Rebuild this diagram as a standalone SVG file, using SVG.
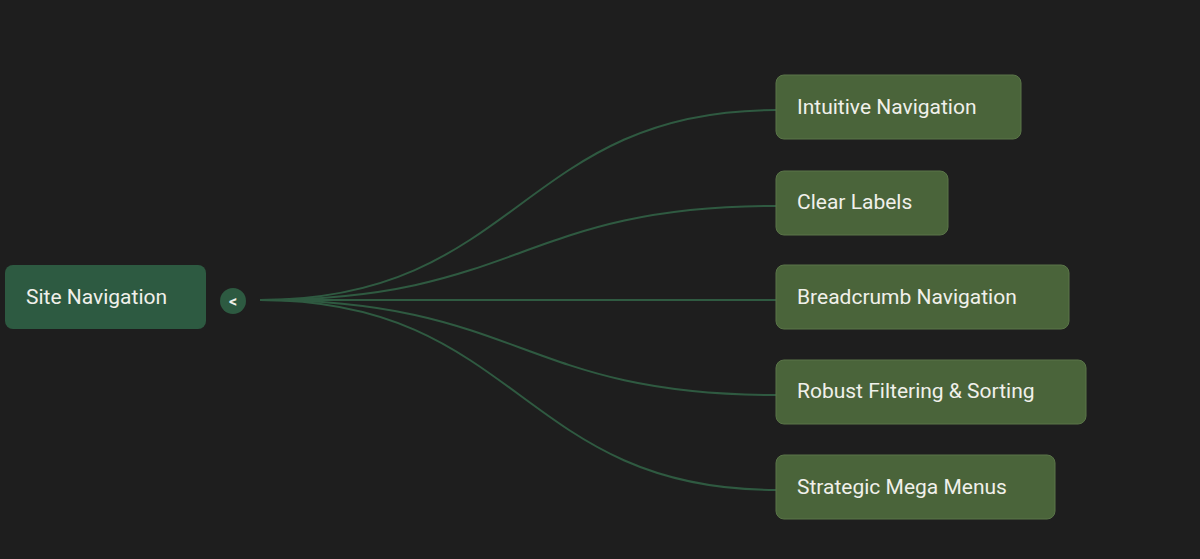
<svg xmlns="http://www.w3.org/2000/svg" width="1200" height="559" viewBox="0 0 1200 559">
<style>
.c{fill:none;stroke:#2f5a41;stroke-width:2}
.k{fill:#4a643a;stroke:#5a7548;stroke-width:1}
.t{font-family:Roboto,"Liberation Sans",sans-serif;font-size:21px;fill:#f0f0ea}
</style>
<rect width="1200" height="559" fill="#1e1e1e"/>
<g id="connectors">
<path class="c" d="M260,300 C520,300 520,110 776,110"/>
<path class="c" d="M260,300 C520,300 520,206 776,206"/>
<path class="c" d="M260,300 L776,300"/>
<path class="c" d="M260,300 C520,300 520,395 776,395"/>
<path class="c" d="M260,300 C520,300 520,490 776,490"/>
</g>
<g id="root"><rect x="5" y="265" width="201" height="64" rx="8" fill="#2d5a41"/><text class="t" x="26" y="304">Site Navigation</text></g>
<g id="toggle"><circle cx="233" cy="301" r="13" fill="#2d5a41"/><text x="233" y="307" text-anchor="middle" font-family="Roboto,sans-serif" font-size="16" font-weight="bold" fill="#f0f0ea">&lt;</text></g>
<g id="n1"><rect class="k" x="776" y="75" width="245" height="64" rx="8"/><text class="t" x="797" y="114">Intuitive Navigation</text></g>
<g id="n2"><rect class="k" x="776" y="171" width="172" height="64" rx="8"/><text class="t" x="797" y="209">Clear Labels</text></g>
<g id="n3"><rect class="k" x="776" y="265" width="293" height="64" rx="8"/><text class="t" x="797" y="304">Breadcrumb Navigation</text></g>
<g id="n4"><rect class="k" x="776" y="360" width="310" height="64" rx="8"/><text class="t" x="797" y="398">Robust Filtering &amp; Sorting</text></g>
<g id="n5"><rect class="k" x="776" y="455" width="279" height="64" rx="8"/><text class="t" x="797" y="494">Strategic Mega Menus</text></g>
</svg>
